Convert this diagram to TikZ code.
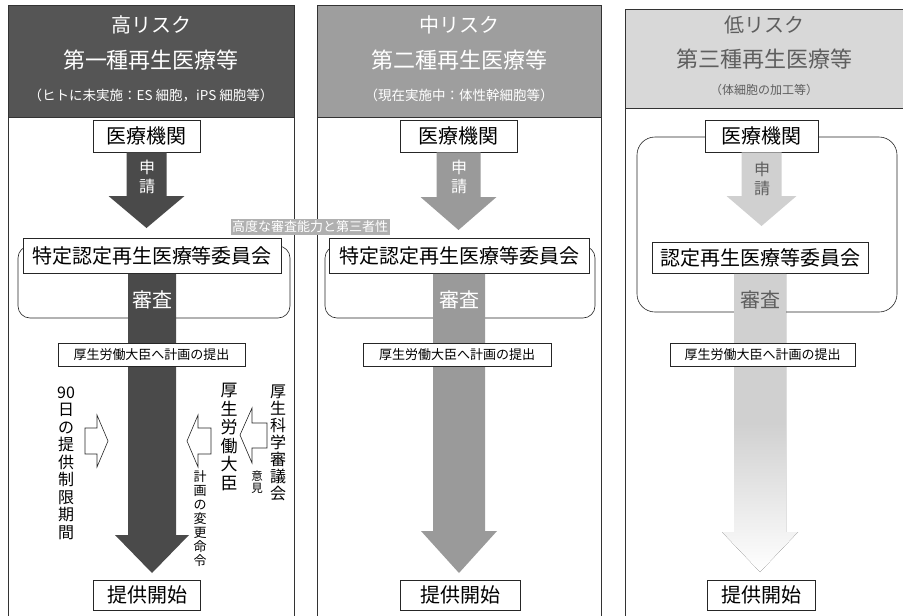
\documentclass[tikz,border=0pt]{standalone}
\usepackage{fontspec}
\newfontfamily\cjk{Noto Sans CJK JP}
\usetikzlibrary{calc}
\definecolor{hdA}{HTML}{555555}
\definecolor{hdB}{HTML}{9E9E9E}
\definecolor{hdC}{HTML}{D8D8D8}
\definecolor{arA}{HTML}{4A4A4A}
\definecolor{arB}{HTML}{9A9A9A}
\definecolor{arC}{HTML}{D0D0D0}
\definecolor{txC}{HTML}{5E5E5E}
\definecolor{lbl}{HTML}{B0B0B0}
\tikzset{
  box/.style={draw=black!85, line width=0.6pt, fill=white, inner sep=0pt},
  hdr/.style={inner sep=0pt},
  vtext/.style={inner sep=0pt, align=center},
  hollow/.style={draw=black!85, line width=0.6pt, fill=white, line join=miter},
  panel/.style={draw=black!80, line width=0.7pt},
  grp/.style={draw=black!85, line width=0.6pt, rounded corners=12pt, inner sep=0pt},
  fA/.style={font=\cjk\fontsize{20pt}{24pt}\selectfont},
  fB/.style={font=\cjk\fontsize{22pt}{26pt}\selectfont},
  fS/.style={font=\cjk\fontsize{13.5pt}{16pt}\selectfont},
  fBox/.style={font=\cjk\fontsize{20pt}{24pt}\selectfont},
  fPlan/.style={font=\cjk\fontsize{13pt}{16pt}\selectfont},
  fShin/.style={font=\cjk\fontsize{16pt}{19pt}\selectfont},
}
\newcommand\blkarrow[6]{%
  \fill[#1] let \p1=(#2), \p2=(#3) in
   (\x1-#4,\y1) -- (\x1+#4,\y1) -- (\x1+#4,\y2+#6) -- (\x1+#5,\y2+#6)
   -- (\x1,\y2) -- (\x1-#5,\y2+#6) -- (\x1-#4,\y2+#6) -- cycle;}
\begin{document}
\begin{tikzpicture}[x=1pt,y=-1pt]
\useasboundingbox (0,0) rectangle (903,616);
\fill[white] (0,0) rectangle (903,616);

% ---------- panels and headers ----------
\fill[hdA] (8,5) rectangle (294,117);
\fill[hdB] (317,5) rectangle (601,117);
\fill[hdC] (625,9) rectangle (903,108);
\draw[panel] (8,616) -- (8,5) -- (294,5) -- (294,616);
\draw[panel] (8,117) -- (294,117);
\draw[panel] (317,616) -- (317,5) -- (601,5) -- (601,616);
\draw[panel] (317,117) -- (601,117);
\draw[panel] (625,616) -- (625,9) -- (903,9);
\draw[panel] (625,108) -- (903,108);

\node[hdr, fA, text=white] (h1a) at (151,25) {高リスク};
\node[hdr, fB, text=white] (h1b) at (151,60) {第一種再生医療等};
\node[hdr, fS, text=white] (h1c) at (151,95) {（ヒトに未実施：ES 細胞，iPS 細胞等）};
\node[hdr, fA, text=white] (h2a) at (459,25) {中リスク};
\node[hdr, fB, text=white] (h2b) at (459,60) {第二種再生医療等};
\node[hdr, fS, text=white] (h2c) at (459,95) {（現在実施中：体性幹細胞等）};
\node[hdr, fA, text=txC] (h3a) at (764,25) {低リスク};
\node[hdr, fB, text=txC] (h3b) at (764,59) {第三種再生医療等};
\node[hdr, font=\cjk\fontsize{12pt}{14pt}\selectfont, text=txC] (h3c) at (764,90) {（体細胞の加工等）};

% ---------- group brackets ----------
\node[grp, minimum width=272pt, minimum height=72pt] (br1) at (154,282) {};
\node[grp, minimum width=270pt, minimum height=72pt] (br2) at (460,282) {};
\node[grp, rounded corners=18pt, minimum width=260pt, minimum height=175pt] (br3) at (767,224.5) {};

% ---------- arrow tips ----------
\coordinate (tip1a) at (147,228);
\coordinate (tip2a) at (459,230);
\coordinate (tip3a) at (762,226);
\coordinate (tip1b) at (152,573);
\coordinate (tip2b) at (461,573);
\coordinate (tip3b) at (763,572);

% ---------- first boxes ----------
\node[box, fBox, minimum width=107pt, minimum height=32pt] (med1) at (146.5,136) {医療機関};
\node[box, fBox, minimum width=117pt, minimum height=32pt] (med2) at (458.5,136) {医療機関};
\node[box, fBox, minimum width=113pt, minimum height=32pt] (med3) at (761.5,136) {医療機関};

% ---------- application arrows ----------
\blkarrow{arA}{med1.south}{tip1a}{20pt}{38pt}{32pt}
\blkarrow{arB}{med2.south}{tip2a}{22pt}{38pt}{33pt}
\blkarrow{arC}{med3.south}{tip3a}{20pt}{35pt}{30pt}

\node[vtext, fShin, text=white] (s1) at (147,177) {申\\請};
\node[vtext, fShin, text=white] (s2) at (459,177) {申\\請};
\node[vtext, fShin, text=txC] (s3) at (762,179) {申\\請};

% ---------- committees ----------
\node[box, fBox, minimum width=258pt, minimum height=35pt] (com1) at (152,256) {特定認定再生医療等委員会};
\node[box, fBox, minimum width=260pt, minimum height=35pt] (com2) at (459,256) {特定認定再生医療等委員会};
\node[box, fBox, minimum width=216pt, minimum height=31pt] (com3) at (760,258) {認定再生医療等委員会};

% ---------- main arrows ----------
\blkarrow{arA}{com1.south}{tip1b}{24pt}{37pt}{38pt}
\blkarrow{arB}{com2.south}{tip2b}{26pt}{38pt}{42pt}
\blkarrow{top color=arC, bottom color=white, middle color=arC}{com3.south}{tip3b}{26pt}{38pt}{40pt}

\node[hdr, fBox, text=white] (r1) at (152,300) {審査};
\node[hdr, fBox, text=white] (r2) at (459,300) {審査};
\node[hdr, fBox, text=txC] (r3) at (760,300) {審査};

% ---------- plan boxes ----------
\node[box, fPlan, minimum width=187pt, minimum height=23pt] (pl1) at (151.5,355) {厚生労働大臣へ計画の提出};
\node[box, fPlan, minimum width=188pt, minimum height=23pt] (pl2) at (457,355) {厚生労働大臣へ計画の提出};
\node[box, fPlan, minimum width=185pt, minimum height=23pt] (pl3) at (762.5,355) {厚生労働大臣へ計画の提出};

% ---------- start boxes ----------
\node[box, fBox, minimum width=107pt, minimum height=30pt] (st1) at (147,595) {提供開始};
\node[box, fBox, minimum width=120pt, minimum height=30pt] (st2) at (460,595) {提供開始};
\node[box, fBox, minimum width=108pt, minimum height=30pt] (st3) at (761,595) {提供開始};

% ---------- label ----------
\node[inner sep=1.5pt, fill=lbl, text=white, font=\cjk\fontsize{13pt}{15pt}\selectfont] (lab) at (310,227) {高度な審査能力と第三者性};

% ---------- column 1 side notes ----------
\node[vtext, font=\cjk\fontsize{16pt}{17.5pt}\selectfont] (v90) at (66,463) {90\\日\\の\\提\\供\\制\\限\\期\\間};
\draw[hollow] (85,428) -- (97,428) -- (97,415) -- (108,441) -- (97,467) -- (97,454) -- (85,454) -- cycle;

\draw[hollow] (211,428) -- (198,428) -- (198,415) -- (187,441) -- (198,467) -- (198,454) -- (211,454) -- cycle;
\node[vtext, font=\cjk\fontsize{17pt}{18.5pt}\selectfont] (vmin) at (229,437) {厚\\生\\労\\働\\大\\臣};
\node[vtext, font=\cjk\fontsize{13pt}{14pt}\selectfont] (vord) at (200,519) {計\\画\\の\\変\\更\\命\\令};

\draw[hollow] (267,423) -- (252,423) -- (252,408) -- (240,435) -- (252,463) -- (252,448) -- (267,448) -- cycle;
\node[vtext, font=\cjk\fontsize{11.5pt}{12.5pt}\selectfont] (vop) at (257,482) {意\\見};
\node[vtext, font=\cjk\fontsize{16pt}{17pt}\selectfont] (vcou) at (278,443) {厚\\生\\科\\学\\審\\議\\会};
\end{tikzpicture}
\end{document}
